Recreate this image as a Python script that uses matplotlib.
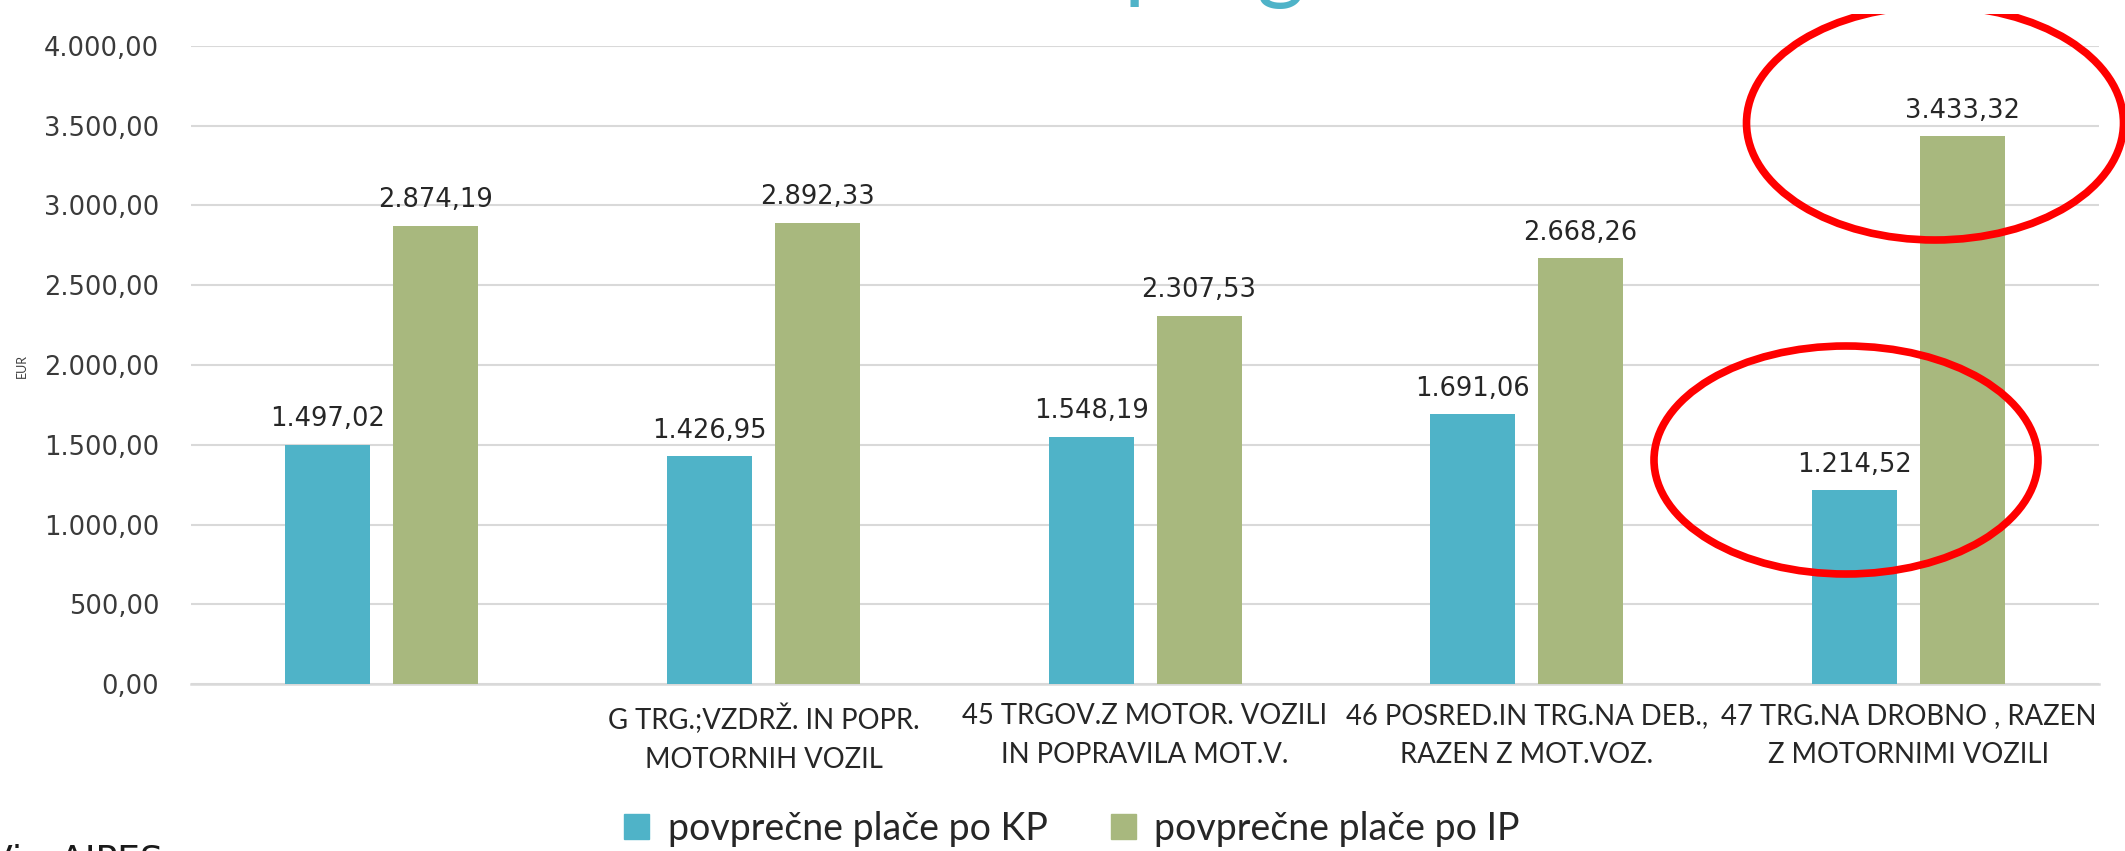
import numpy as np
import matplotlib
matplotlib.use("Agg")
import matplotlib.pyplot as plt
from matplotlib.patches import Ellipse, Patch
from matplotlib.transforms import Bbox, TransformedBbox

categories = [
    "",
    "G TRG.;VZDRŽ. IN POPR.\nMOTORNIH VOZIL",
    "45 TRGOV.Z MOTOR. VOZILI\nIN POPRAVILA MOT.V.",
    "46 POSRED.IN TRG.NA DEB.,\nRAZEN Z MOT.VOZ.",
    "47 TRG.NA DROBNO , RAZEN\nZ MOTORNIMI VOZILI",
]
place_kp = [1497.02, 1426.95, 1548.19, 1691.06, 1214.52]
place_ip = [2874.19, 2892.33, 2307.53, 2668.26, 3433.32]
series_names = ["povprečne plače po KP", "povprečne plače po IP"]
yticks = [0, 500, 1000, 1500, 2000, 2500, 3000, 3500, 4000]

BLUE = "#4FB3C8"
GREEN = "#A8B87E"
GRID = "#D9D9D9"


def eu(v):
    s = f"{v:,.2f}"
    return s.replace(",", "X").replace(".", ",").replace("X", ".")


fig = plt.figure(figsize=(21.25, 8.51), dpi=100)
ax = fig.add_axes([0.0899, 0.1962, 0.8979, 0.7498])

x = np.arange(len(categories))
w = 0.223
off = 0.1415
b1 = ax.bar(x - off, place_kp, w, color=BLUE, zorder=3)
b2 = ax.bar(x + off, place_ip, w, color=GREEN, zorder=3)

for bars, vals in ((b1, place_kp), (b2, place_ip)):
    for r, v in zip(bars, vals):
        ax.annotate(eu(v), (r.get_x() + r.get_width() / 2, v),
                    xytext=(0, 13.5), textcoords="offset points",
                    ha="center", va="baseline", fontsize=18.5, color="#262626")

ax.set_xlim(-0.5, 4.5)
ax.set_ylim(0, 4000)
ax.set_yticks(yticks)
ax.set_yticklabels([eu(t) for t in yticks], fontsize=18.5, color="#3a3a3a")
ax.set_xticks(x)
ax.set_xticklabels(categories, fontsize=19.8, family="Lato",
                   linespacing=1.6, color="#262626")
ax.tick_params(axis="y", length=0, pad=23)
ax.tick_params(axis="x", length=0, pad=14)
ax.grid(axis="y", color=GRID, lw=1.5, zorder=0)
for s in ("left", "right", "top"):
    ax.spines[s].set_visible(False)
ax.spines["bottom"].set_color(GRID)
ax.spines["bottom"].set_linewidth(1.8)

fig.text(22 / 2125, 1 - 366 / 851, "EUR", rotation=90, fontsize=9,
         family="Lato", ha="center", va="center", color="#404040")

handles = [Patch(color=BLUE), Patch(color=GREEN)]
fig.legend(handles, series_names, loc="center", bbox_to_anchor=(0.5045, 1 - 829 / 851),
           ncol=2, frameon=False, prop={"family": "Lato", "size": 27},
           labelcolor="#262626",
           handlelength=0.65, handleheight=0.65, handletextpad=0.5, columnspacing=1.7)

# cut-off title at the top and source at the bottom
fig.text(1124 / 2125, 1 + 9 / 851, "p", fontsize=66, family="Lato", color=BLUE,
         ha="left", va="baseline")
fig.text(1280 / 2125, 1 + 9 / 851, "g", fontsize=66, family="Lato", color=BLUE,
         ha="center", va="baseline")
fig.text(163 / 2125, -20 / 851, "Vir: AJPES", fontsize=26, color="#1a1a1a",
         ha="right", va="baseline")

# red highlight ellipses (top one clipped by the screenshot edge)
clip = TransformedBbox(Bbox([[0, 0], [1, 1 - 14 / 851]]), fig.transFigure)
for cx, cy, ew, eh in ((1935, 123, 377, 234), (1846, 460, 384, 228)):
    e = Ellipse((cx / 2125, 1 - cy / 851), ew / 2125, eh / 851,
                transform=fig.transFigure, fill=False,
                edgecolor="#FF0000", lw=5.5, zorder=10)
    e.set_clip_box(clip)
    fig.patches.append(e)

fig.savefig("out.png", dpi=100)
